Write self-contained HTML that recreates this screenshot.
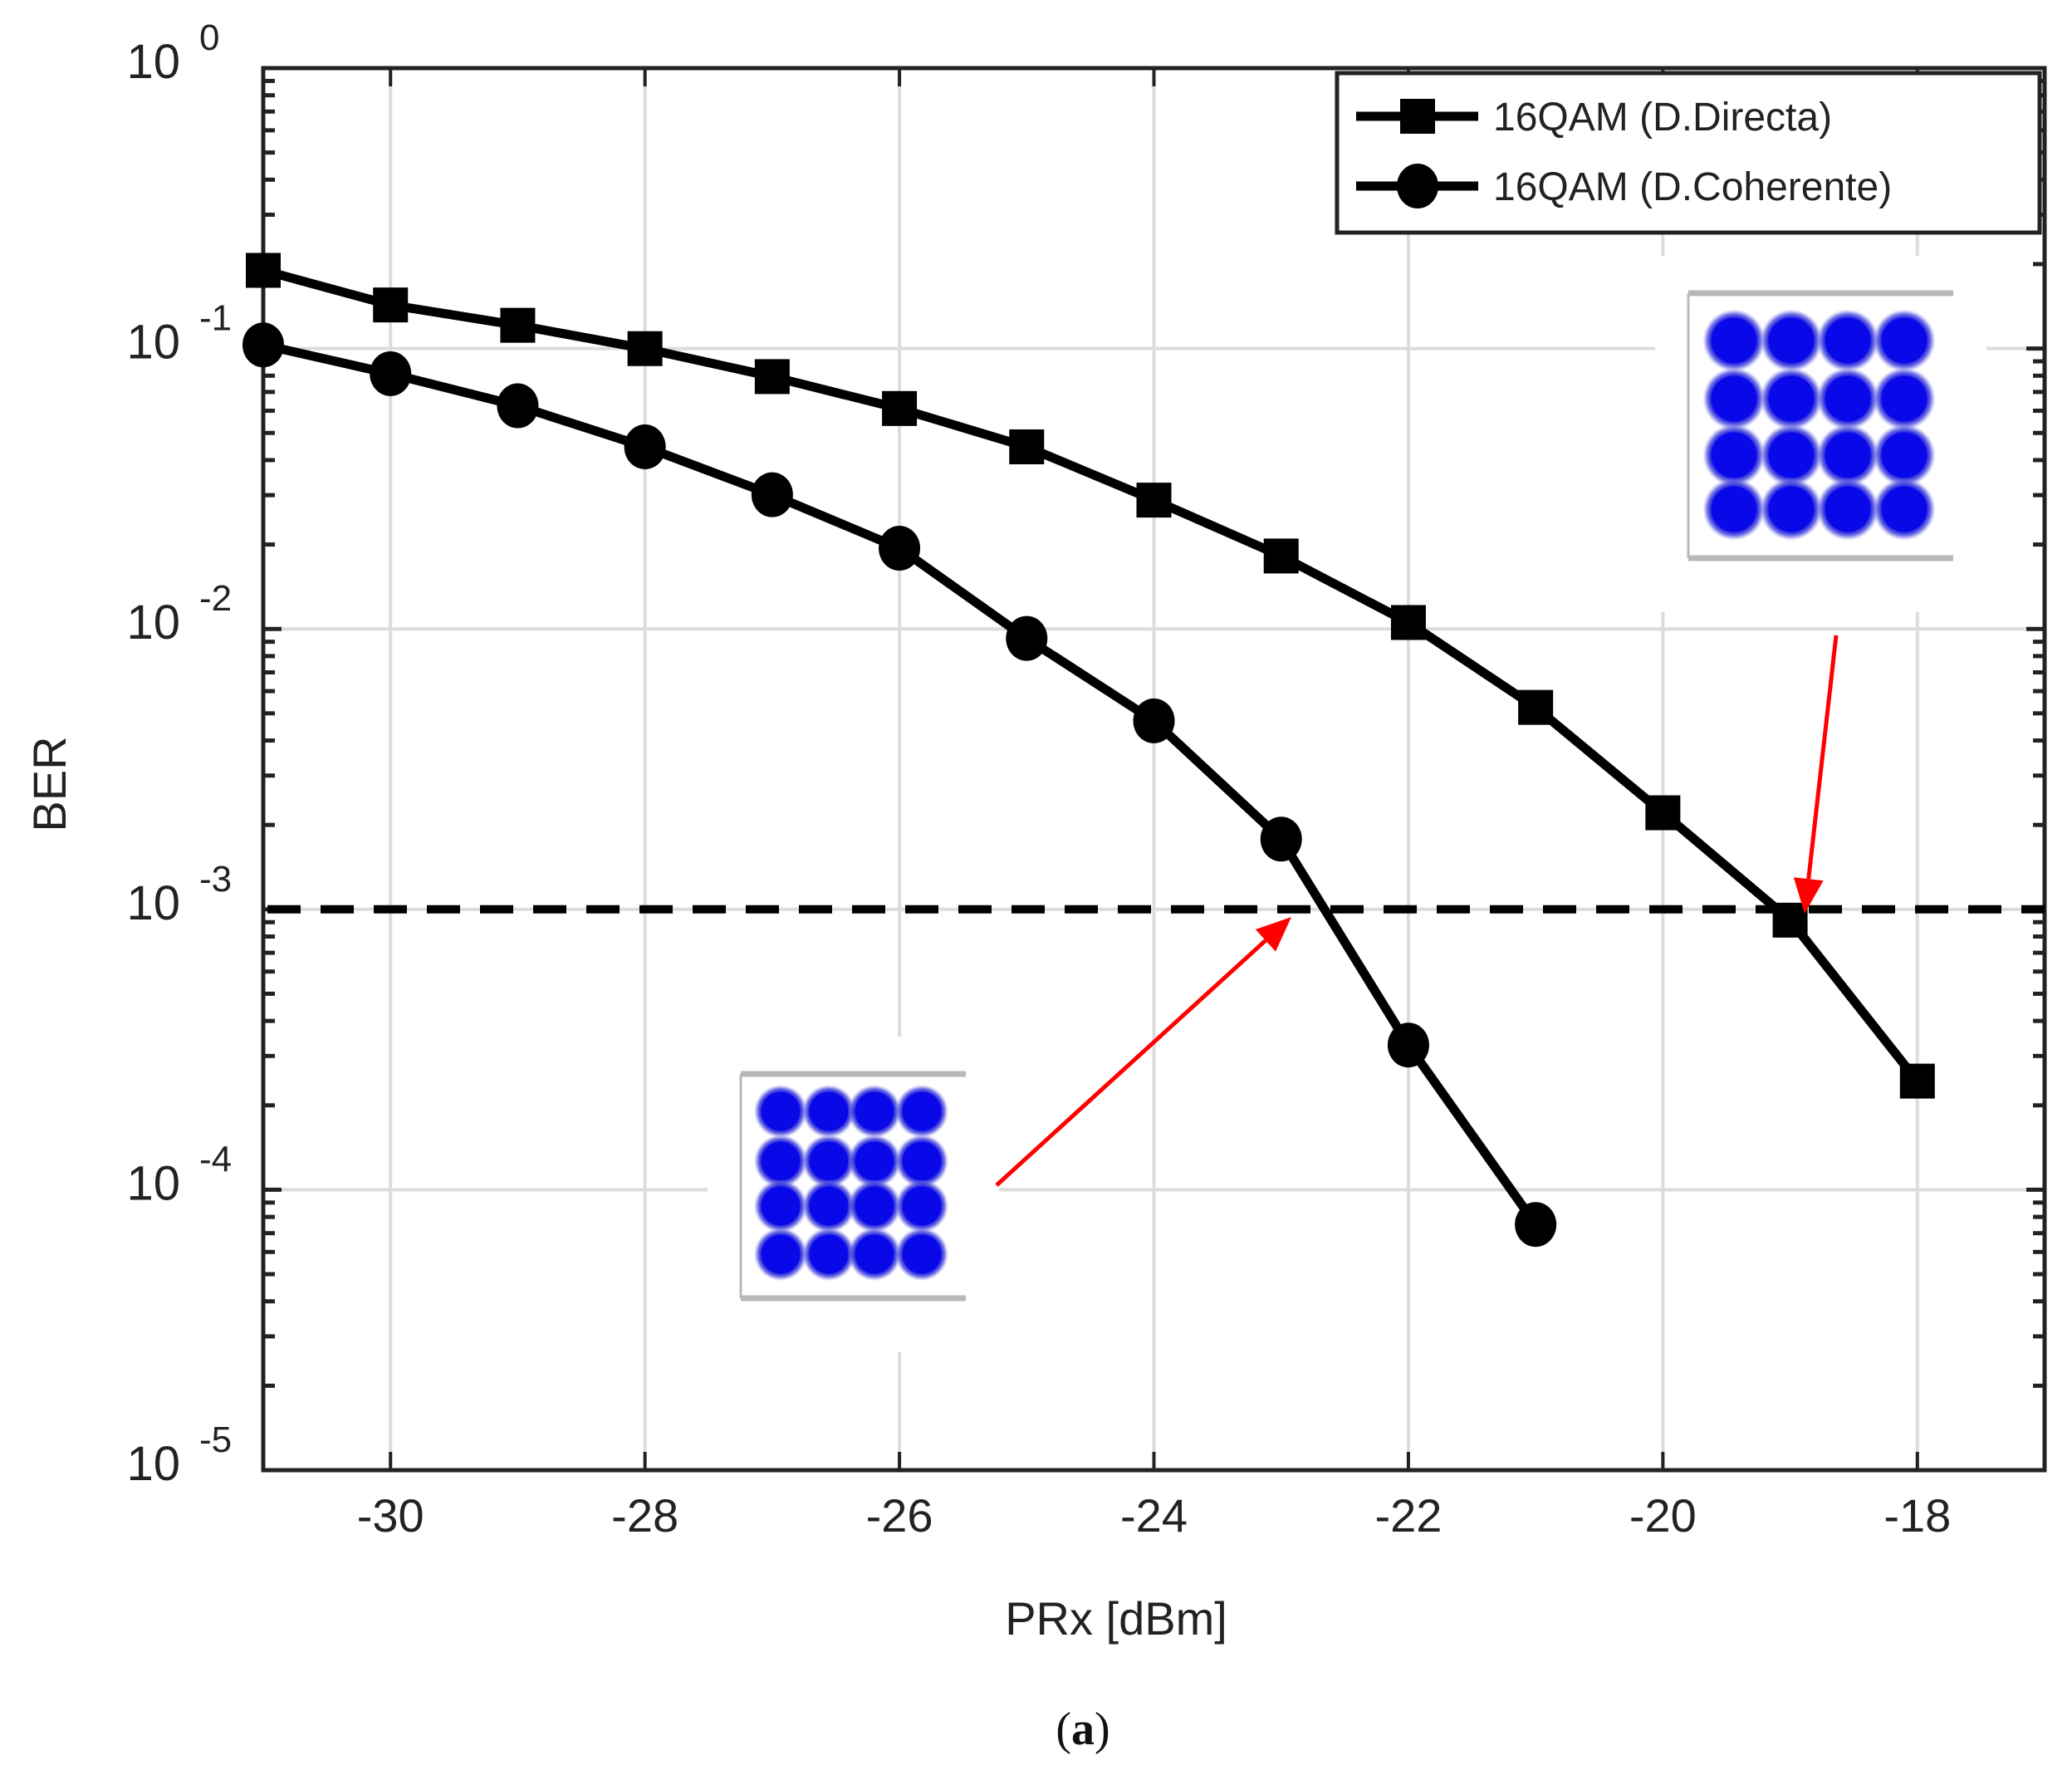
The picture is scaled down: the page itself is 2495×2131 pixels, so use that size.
<!DOCTYPE html>
<html><head><meta charset="utf-8"><style>
html,body{margin:0;padding:0;background:#fff;}
svg{display:block;font-family:"Liberation Sans",Arial,sans-serif;}
</style></head><body>
<svg id="chart" width="2495" height="2131" viewBox="0 0 2495 2131" xmlns="http://www.w3.org/2000/svg">
<defs>
<radialGradient id="blob"><stop offset="0" stop-color="#0000ee"/><stop offset="0.7" stop-color="#0a0ae6"/><stop offset="0.85" stop-color="#3a3ad8" stop-opacity="0.7"/><stop offset="1" stop-color="#8888ee" stop-opacity="0"/></radialGradient>
</defs>
<g id="grid"></g>
<g id="insets"></g>
<g id="axes"></g>
<g id="series"></g>
<g id="legend"></g>
<text x="64" y="944" font-size="56" fill="#222" text-anchor="middle" dominant-baseline="middle" transform="rotate(-90 64 944)">BER</text>
<text x="1344" y="1968" font-size="56" fill="#222" text-anchor="middle">PRx [dBm]</text>
<text x="1304" y="2100" font-size="56" fill="#111" text-anchor="middle" font-family="Liberation Serif,serif">(<tspan font-weight="bold">a</tspan>)</text>
</svg>
<script>
const xCats = [-31,-30,-29,-28,-27,-26,-25,-24,-23,-22,-21,-20,-19,-18];
const directaBER = [0.19,0.143,0.121,0.0999,0.0794,0.0611,0.0446,0.0288,0.0182,0.01054,0.00525,0.00221,0.000915,0.000244];
const coherenteX = [-31,-30,-29,-28,-27,-26,-25,-24,-23,-22,-21];
const coherenteBER = [0.103,0.0813,0.0625,0.0446,0.0301,0.0194,0.00925,0.0047,0.00178,0.000328,0.0000752];
const xTicks = [-30,-28,-26,-24,-22,-20,-18];
const yDecades = [0,-1,-2,-3,-4,-5];
const fecThreshold = 1e-3;

const NS="http://www.w3.org/2000/svg";
const L=317,R=2462,T=82,B=1770;
const xMin=-31,xMax=-17,yMaxExp=0,yMinExp=-5;
function xs(v){return L+(v-xMin)/(xMax-xMin)*(R-L);}
function ys(v){return T+(yMaxExp-Math.log10(v))/(yMaxExp-yMinExp)*(B-T);}
function mk(tag,attrs,parent){const e=document.createElementNS(NS,tag);for(const k in attrs)e.setAttribute(k,attrs[k]);parent.appendChild(e);return e;}
const grid=document.getElementById('grid'),axes=document.getElementById('axes'),ser=document.getElementById('series'),leg=document.getElementById('legend'),ins=document.getElementById('insets');

xTicks.forEach(t=>{
  const g=mk('line',{x1:xs(t),x2:xs(t),y1:T,y2:B,stroke:'#dcdcdc','stroke-width':4},grid);
  
  
  const tk=mk('line',{x1:xs(t),x2:xs(t),y1:B,y2:B-22,stroke:'#222','stroke-width':4},axes);
  
  
  const tk2=mk('line',{x1:xs(t),x2:xs(t),y1:T,y2:T+22,stroke:'#222','stroke-width':4},axes);
  
  
  const lb=mk('text',{x:xs(t),y:1844,'font-size':56,fill:'#222','text-anchor':'middle'},axes);
  
  
  lb.textContent=String(t);
});
yDecades.forEach(d=>{
  const y=ys(Math.pow(10,d));
  if(d<0&&d>-5){const g=mk('line',{x1:L,x2:R,y1:y,y2:y,stroke:'#dcdcdc','stroke-width':4},grid);
  
  }
  const lb=mk('text',{x:217,y:y+12,'font-size':58,fill:'#222','text-anchor':'end'},axes);
  
  
  lb.textContent='10';
  const sp=mk('text',{x:240,y:y-22,'font-size':44,fill:'#222','text-anchor':'start'},axes);
  
  
  sp.textContent=String(d);
  if(d>-5){
    for(let m=1;m<=9;m++){
      const yy=ys(m*Math.pow(10,d-1));
      const len=(m===1)?22:14;
      mk('line',{x1:L,x2:L+len,y1:yy,y2:yy,stroke:'#222','stroke-width':5},axes);
      mk('line',{x1:R,x2:R-len,y1:yy,y2:yy,stroke:'#222','stroke-width':5},axes);
    }
  }
});
const frame=mk('rect',{x:L,y:T,width:R-L,height:B-T,fill:'none',stroke:'#222','stroke-width':5},axes);



// insets
function inset(x0,y0,x1,y1,cx,cy,r,name){
  const g=mk('g',{},ins);
  
  
  mk('rect',{x:x0-40,y:y0-45,width:x1-x0+80,height:y1-y0+110,fill:'#fff'},g);
  mk('line',{x1:x0,x2:x1,y1:y0,y2:y0,stroke:'#b8b8b8','stroke-width':7},g);
  mk('line',{x1:x0,x2:x1,y1:y1,y2:y1,stroke:'#b8b8b8','stroke-width':7},g);
  mk('line',{x1:x0,x2:x0,y1:y0,y2:y1,stroke:'#b8b8b8','stroke-width':3},g);
  cx.forEach(a=>cy.forEach(b=>{
    mk('circle',{cx:a,cy:b,r:r*1.4,fill:'url(#blob)'},g);
    mk('circle',{cx:a,cy:b,r:r,fill:'#0808e8'},g);
  }));
}
inset(2033,353,2352,672,[2088,2157,2225,2293],[410,480,548,613],27,'inset-directa');
inset(892,1293,1163,1563,[940,998,1053,1110],[1338,1398,1452,1510],23,'inset-coherente');

// threshold
const th=mk('line',{x1:L+5,x2:R,y1:ys(fecThreshold),y2:ys(fecThreshold),stroke:'#000','stroke-width':10,'stroke-dasharray':'40 24'},ser);



// series
function pts(xa,ya){return xa.map((x,i)=>xs(x)+','+ys(ya[i])).join(' ');}
const l1=mk('polyline',{points:pts(xCats,directaBER),fill:'none',stroke:'#000','stroke-width':11,'stroke-linejoin':'round'},ser);


xCats.forEach((x,i)=>{
  const s=mk('rect',{x:xs(x)-21,y:ys(directaBER[i])-21,width:42,height:42,fill:'#000'},ser);
  
  
});
const l2=mk('polyline',{points:pts(coherenteX,coherenteBER),fill:'none',stroke:'#000','stroke-width':11,'stroke-linejoin':'round'},ser);


coherenteX.forEach((x,i)=>{
  const c=mk('ellipse',{cx:xs(x),cy:ys(coherenteBER[i]),rx:25,ry:27,fill:'#000'},ser);
  
  
});

// arrows
function arrow(x1,y1,x2,y2,name){
  const g=mk('g',{},ser);
  
  
  const a=Math.atan2(y2-y1,x2-x1),h=42,w=18;
  const bx=x2-h*Math.cos(a),by=y2-h*Math.sin(a);
  mk('line',{x1:x1,y1:y1,x2:bx,y2:by,stroke:'#f00','stroke-width':5},g);
  mk('polygon',{points:`${x2},${y2} ${bx+w*Math.sin(a)},${by-w*Math.cos(a)} ${bx-w*Math.sin(a)},${by+w*Math.cos(a)}`,fill:'#f00'},g);
}
arrow(2211,765,2173,1100,'arrow-directa');
arrow(1200,1427,1555,1104,'arrow-coherente');

// legend
const lb=mk('rect',{x:1610,y:88,width:846,height:192,fill:'#fff',stroke:'#222','stroke-width':5},leg);


[[140,'16QAM (D.Directa)','sq'],[224,'16QAM (D.Coherente)','ci']].forEach(e=>{
  const g=mk('g',{},leg);
  
  
  mk('line',{x1:1633,x2:1780,y1:e[0],y2:e[0],stroke:'#000','stroke-width':11},g);
  if(e[2]==='sq')mk('rect',{x:1686,y:e[0]-21,width:42,height:42,fill:'#000'},g);
  else mk('ellipse',{cx:1707,cy:e[0],rx:25,ry:27,fill:'#000'},g);
  const t=mk('text',{x:1798,y:e[0]+17,'font-size':48,fill:'#222'},g);
  t.textContent=e[1];
});
</script>
</body></html>
